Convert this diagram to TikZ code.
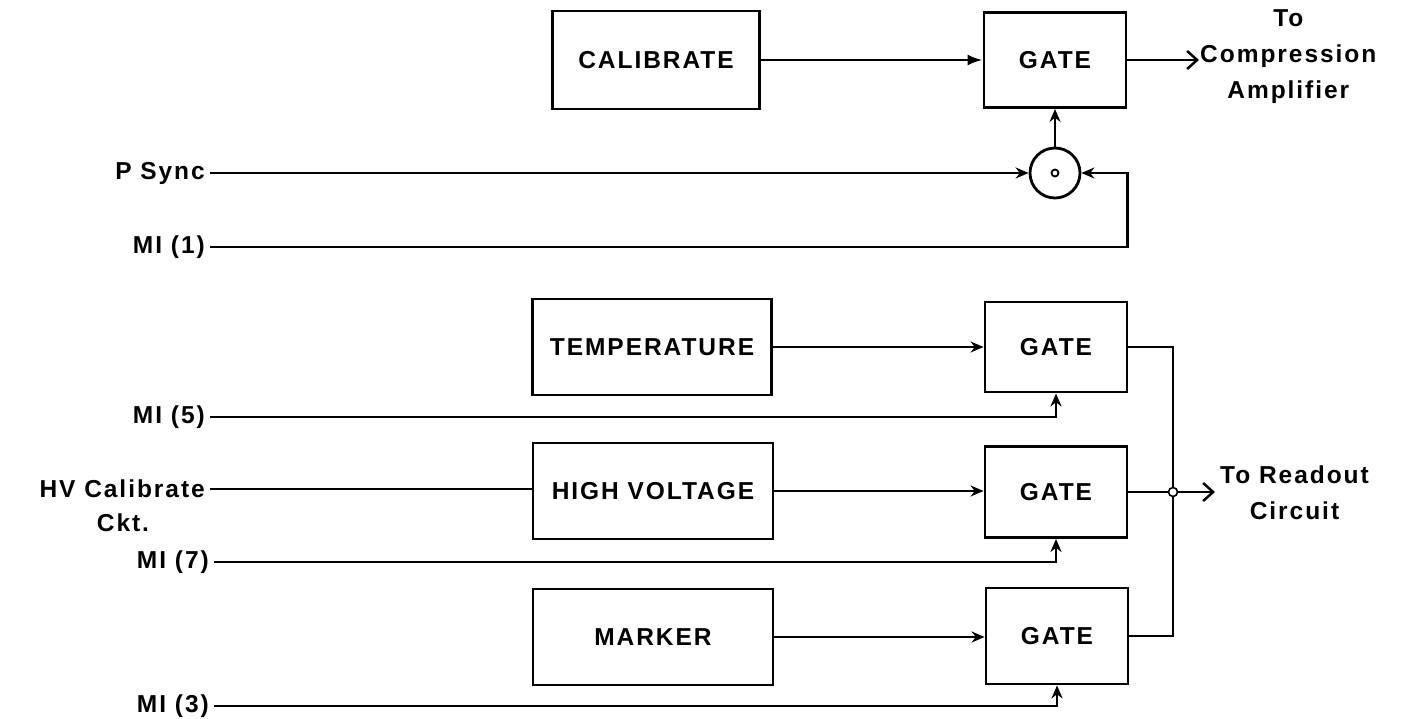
\documentclass[tikz,border=0pt]{standalone}
\usepackage{fontspec}
\setmainfont{Liberation Sans}[LetterSpace=8]
\usetikzlibrary{arrows.meta,calc}
\begin{document}
\begin{tikzpicture}[x=1pt,y=-1pt,
  txt/.style={font=\fontsize{24.5}{36}\selectfont\bfseries},
  blk/.style={draw,line width=2.9pt,txt,inner sep=0pt},
  gatebox/.style={blk,minimum width=142pt,minimum height=93pt},
  srcbox/.style={blk,minimum width=240pt,minimum height=96pt},
  lbl/.style={txt,anchor=east,inner sep=5pt},
  conn/.style={line width=2.7pt},
  inarr/.style={-{Stealth[length=13pt,width=11pt]}},
  outarr/.style={-{Straight Barb[length=10pt,width=18pt,line width=2.5pt]}}
]
\useasboundingbox (0,0) rectangle (1408,719);

% top section
\node[blk,minimum width=207pt,minimum height=98pt] (cal) at (656,60) {CALIBRATE};
\node[gatebox,minimum height=95pt] (g1) at (1055,60) {GATE};
\node[draw,circle,line width=2.8pt,minimum size=50pt,inner sep=0pt] (circ) at (1055,173) {};
\draw[line width=1.8pt] (circ.center) circle (3.5pt);
\coordinate (out1) at (1199,60);
\node[txt,anchor=west,align=center,inner sep=0pt] (comp) at (1200,57) {To\\Compression\\Amplifier};

\node[lbl] (psync) at (210,173) {P Sync};
\node[lbl] (mi1) at (210,247) {MI (1)};

\draw[conn,-{Latex[length=15pt,width=11pt]}] (cal.east) -- (g1.west);
\draw[conn,outarr] (g1.east) -- (out1);
\draw[conn,inarr] (psync.east) -- (circ.west);
\draw[conn,inarr] (circ.north) -- (g1.south);
\draw[conn,inarr] (mi1.east) -- (mi1.east -| g1.east) |- (circ.east);

% lower section
\node[srcbox,minimum width=239pt] (temp) at (652,347) {TEMPERATURE};
\node[gatebox,minimum height=90pt] (g2) at (1056,347) {GATE};
\node[srcbox] (hv) at (653,491) {HIGH VOLTAGE};
\node[gatebox,minimum height=91pt] (g3) at (1056,492) {GATE};
\node[srcbox] (mk) at (653,637) {MARKER};
\node[gatebox,minimum height=96pt] (g4) at (1057,636) {GATE};

\node[lbl] (mi5) at (210,417) {MI (5)};
\node[lbl] (hvl) at (210,489) {HV Calibrate};
\node[txt,inner sep=0pt] (ckt) at (123,523) {Ckt.};
\node[lbl] (mi7) at (214,562) {MI (7)};
\node[lbl] (mi3) at (214,706) {MI (3)};

\draw[conn,inarr] (temp.east) -- (temp.east -| g2.west);
\draw[conn,inarr] (mi5.east) -| (g2.south);
\draw[conn] (hvl.east) -- (hvl.east -| hv.west);
\draw[conn,inarr] (hv.east) -- (hv.east -| g3.west);
\draw[conn,inarr] (mi7.east) -| (g3.south);
\draw[conn,inarr] (mk.east) -- (mk.east -| g4.west);
\draw[conn,inarr] (mi3.east) -| (g4.south);

\coordinate (j) at (1173,492);
\coordinate (out2) at (1215,492);
\draw[conn] (g2.east) -| (j);
\draw[conn] (g4.east) -| (j);
\draw[conn] (g3.east) -- (j);
\draw[conn,outarr] (j) -- (out2);
\draw[line width=1.6pt,fill=white] (j) circle (4.5pt);
\node[txt,anchor=west,align=center,inner sep=0pt] (rd) at (1220,493) {To Readout\\Circuit};
\end{tikzpicture}
\end{document}
